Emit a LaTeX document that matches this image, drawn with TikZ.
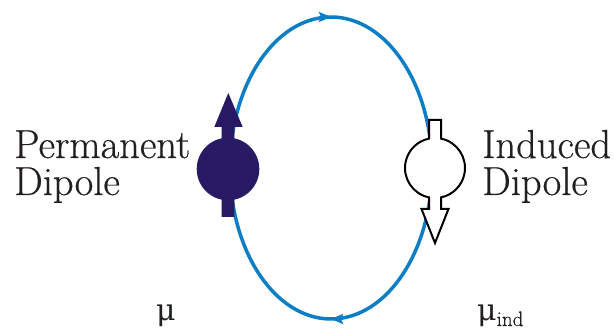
\documentclass[tikz,border=0pt]{standalone}
\usepackage{fontspec}
\newfontfamily\labelfont{Latin Modern Roman}[FakeBold=0.5]
\newfontfamily\greekfont{DejaVu Serif}
\usetikzlibrary{arrows.meta, positioning, decorations.markings}
\definecolor{loopblue}{RGB}{12,126,198}
\definecolor{dipolenavy}{RGB}{40,25,100}
\definecolor{textgray}{RGB}{35,31,32}

\begin{document}
\begin{tikzpicture}[x=1pt, y=1pt,
    label text/.style={font=\labelfont\fontsize{40.5}{37}\selectfont, text=textgray, align=left, inner sep=0pt},
    mu text/.style={font=\greekfont\fontsize{30}{30}\selectfont, text=textgray, inner sep=0pt},
    loop line/.style={line width=3.5pt, loopblue,
      postaction={decorate, decoration={markings,
        mark=at position 0.25 with {\arrowreversed{Stealth[length=12pt, width=10pt, inset=2pt]}},
        mark=at position 0.75 with {\arrowreversed{Stealth[length=12pt, width=10pt, inset=2pt]}}}}}]
  \useasboundingbox (0,0) rectangle (614,334);

  % Coupling loop
  \draw[loop line] (331,166) ellipse [x radius=101, y radius=151];

  % Permanent dipole
  \fill[dipolenavy] (228,165) circle [radius=31.3];
  \fill[dipolenavy] (221.7,117) -- (234.3,117) -- (234.3,207) -- (242.7,207)
    -- (228.3,241) -- (214.3,207) -- (221.7,207) -- cycle;

  % Induced dipole
  \filldraw[fill=white, draw=black, line width=2pt, line join=miter]
    (429,214) -- (441,214) -- (441,195.4)
    arc[start angle=78.46, end angle=-78.46, radius=30]
    -- (441,125) -- (448.5,125) -- (435,91) -- (421.5,125) -- (429,125) -- (429,136.6)
    arc[start angle=258.46, end angle=101.54, radius=30] -- cycle;

  % Labels
  \node[label text, anchor=base west] (perm) at (14,139) {Permanent\\Dipole};
  \node[label text, anchor=base west] (ind) at (482,139) {Induced\\Dipole};
  \node[mu text, anchor=base west] (mu) at (156,13) {μ};
  \node[mu text, anchor=base west] (muind) at (477,13)
    {μ\raisebox{-5pt}{\labelfont\fontsize{21}{21}\selectfont ind}};
\end{tikzpicture}
\end{document}
